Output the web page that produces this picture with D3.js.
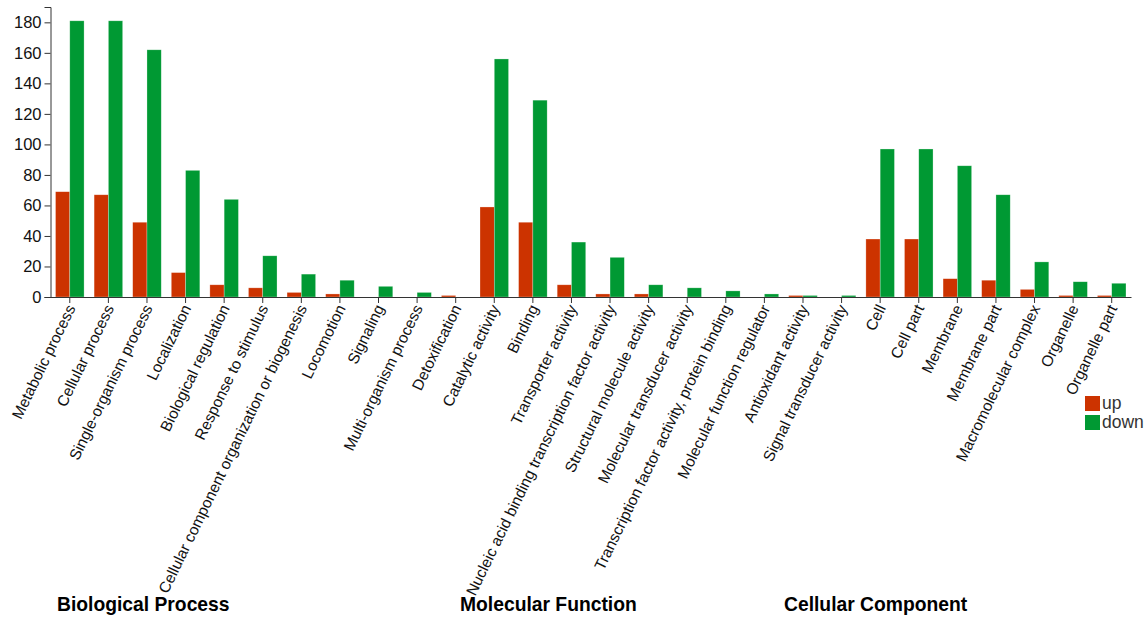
<!DOCTYPE html>
<html>
<head>
<meta charset="utf-8">
<script src="https://cdn.jsdelivr.net/npm/d3@7"></script>
<style>
  html, body { margin: 0; padding: 0; background: #fff; }
  svg { display: block; font-family: "Liberation Sans", Arial, Helvetica, sans-serif; }
</style>
</head>
<body>
<svg id="chart" width="1148" height="617"></svg>
<script>
// GO term categories (Biological Process, Molecular Function, Cellular Component)
const categories = [
  "Metabolic process", "Cellular process", "Single-organism process", "Localization",
  "Biological regulation", "Response to stimulus",
  "Cellular component organization or biogenesis", "Locomotion", "Signaling",
  "Multi-organism process", "Detoxification",
  "Catalytic activity", "Binding", "Transporter activity",
  "Nucleic acid binding transcription factor activity", "Structural molecule activity",
  "Molecular transducer activity", "Transcription factor activity, protein binding",
  "Molecular function regulator", "Antioxidant activity", "Signal transducer activity",
  "Cell", "Cell part", "Membrane", "Membrane part", "Macromolecular complex",
  "Organelle", "Organelle part"
];

// Gene counts per term
const upValues   = [69, 67, 49, 16, 8, 6, 3, 2, 0, 0, 1,
                    59, 49, 8, 2, 2, 0, 0, 0, 1, 0,
                    38, 38, 12, 11, 5, 1, 1];
const downValues = [181, 181, 162, 83, 64, 27, 15, 11, 7, 3, 0,
                    156, 129, 36, 26, 8, 6, 4, 2, 1, 1,
                    97, 97, 86, 67, 23, 10, 9];

const seriesNames = ["up", "down"];
const yTicks = [0, 20, 40, 60, 80, 100, 120, 140, 160, 180];
const groupTitles = ["Biological Process", "Molecular Function", "Cellular Component"];

const colors = { up: "#cc3300", down: "#009933" };

const rows = categories.map((c, i) => ({ term: c, up: upValues[i], down: downValues[i] }));

const svg = d3.select("#chart");
const plotLeft = 50.5, plotRight = 1131, plotTop = 7, plotBottom = 297;

const x0 = d3.scaleBand()
  .domain(categories)
  .range([plotLeft, plotRight])
  .paddingInner(0.26)
  .paddingOuter(0.13);

const x1 = d3.scaleBand()
  .domain(seriesNames)
  .range([0, x0.bandwidth()]);

const yMax = d3.max(downValues.concat(upValues)) * 1.05;
const y = d3.scaleLinear().domain([0, yMax]).range([plotBottom, plotTop]);

// bars
const groups = svg.append("g").selectAll("g")
  .data(rows)
  .join("g")
  .attr("transform", d => `translate(${x0(d.term)},0)`);

groups.selectAll("rect")
  .data(d => seriesNames.map(k => ({ key: k, value: d[k] })))
  .join("rect")
  .attr("x", d => x1(d.key))
  .attr("y", d => y(d.value))
  .attr("width", x1.bandwidth())
  .attr("height", d => plotBottom - y(d.value))
  .attr("fill", d => colors[d.key])
  .attr("stroke", "#fff")
  .attr("stroke-opacity", 0.45)
  .attr("stroke-width", 0.6);

// y axis
const yAxis = svg.append("g")
  .attr("transform", `translate(${plotLeft},0)`)
  .call(d3.axisLeft(y).tickValues(yTicks).tickSize(6).tickPadding(3));
yAxis.selectAll("text").attr("font-size", 16.5).attr("fill", "#111")
  .attr("font-family", "Liberation Sans, Arial, sans-serif");
yAxis.selectAll("path, line").attr("stroke", "#333");

// x axis
const xAxis = svg.append("g")
  .attr("transform", `translate(0,${plotBottom})`)
  .call(d3.axisBottom(x0).tickSize(6).tickSizeOuter(0));
xAxis.selectAll("path, line").attr("stroke", "#333");
xAxis.selectAll("text")
  .attr("font-size", 15.5)
  .attr("fill", "#111")
  .attr("font-family", "Liberation Sans, Arial, sans-serif")
  .style("text-anchor", "end")
  .attr("x", 0)
  .attr("y", 0)
  .attr("dy", "0")
  .attr("transform", "translate(6,11) rotate(-64)");

// section titles
const titleX = [57, 460, 784];
svg.append("g").selectAll("text")
  .data(groupTitles)
  .join("text")
  .attr("x", (d, i) => titleX[i])
  .attr("y", 611)
  .attr("font-size", 19.3)
  .attr("font-weight", "bold")
  .attr("fill", "#000")
  .text(d => d);

// legend
const legend = svg.append("g").attr("transform", "translate(1085,396)");
const li = legend.selectAll("g")
  .data(seriesNames)
  .join("g")
  .attr("transform", (d, i) => `translate(0,${i * 19})`);
li.append("rect")
  .attr("width", 15).attr("height", 15)
  .attr("fill", d => colors[d]);
li.append("text")
  .attr("x", 17).attr("y", 13)
  .attr("font-size", 17.5)
  .attr("fill", "#333")
  .text(d => d);
</script>
</body>
</html>
